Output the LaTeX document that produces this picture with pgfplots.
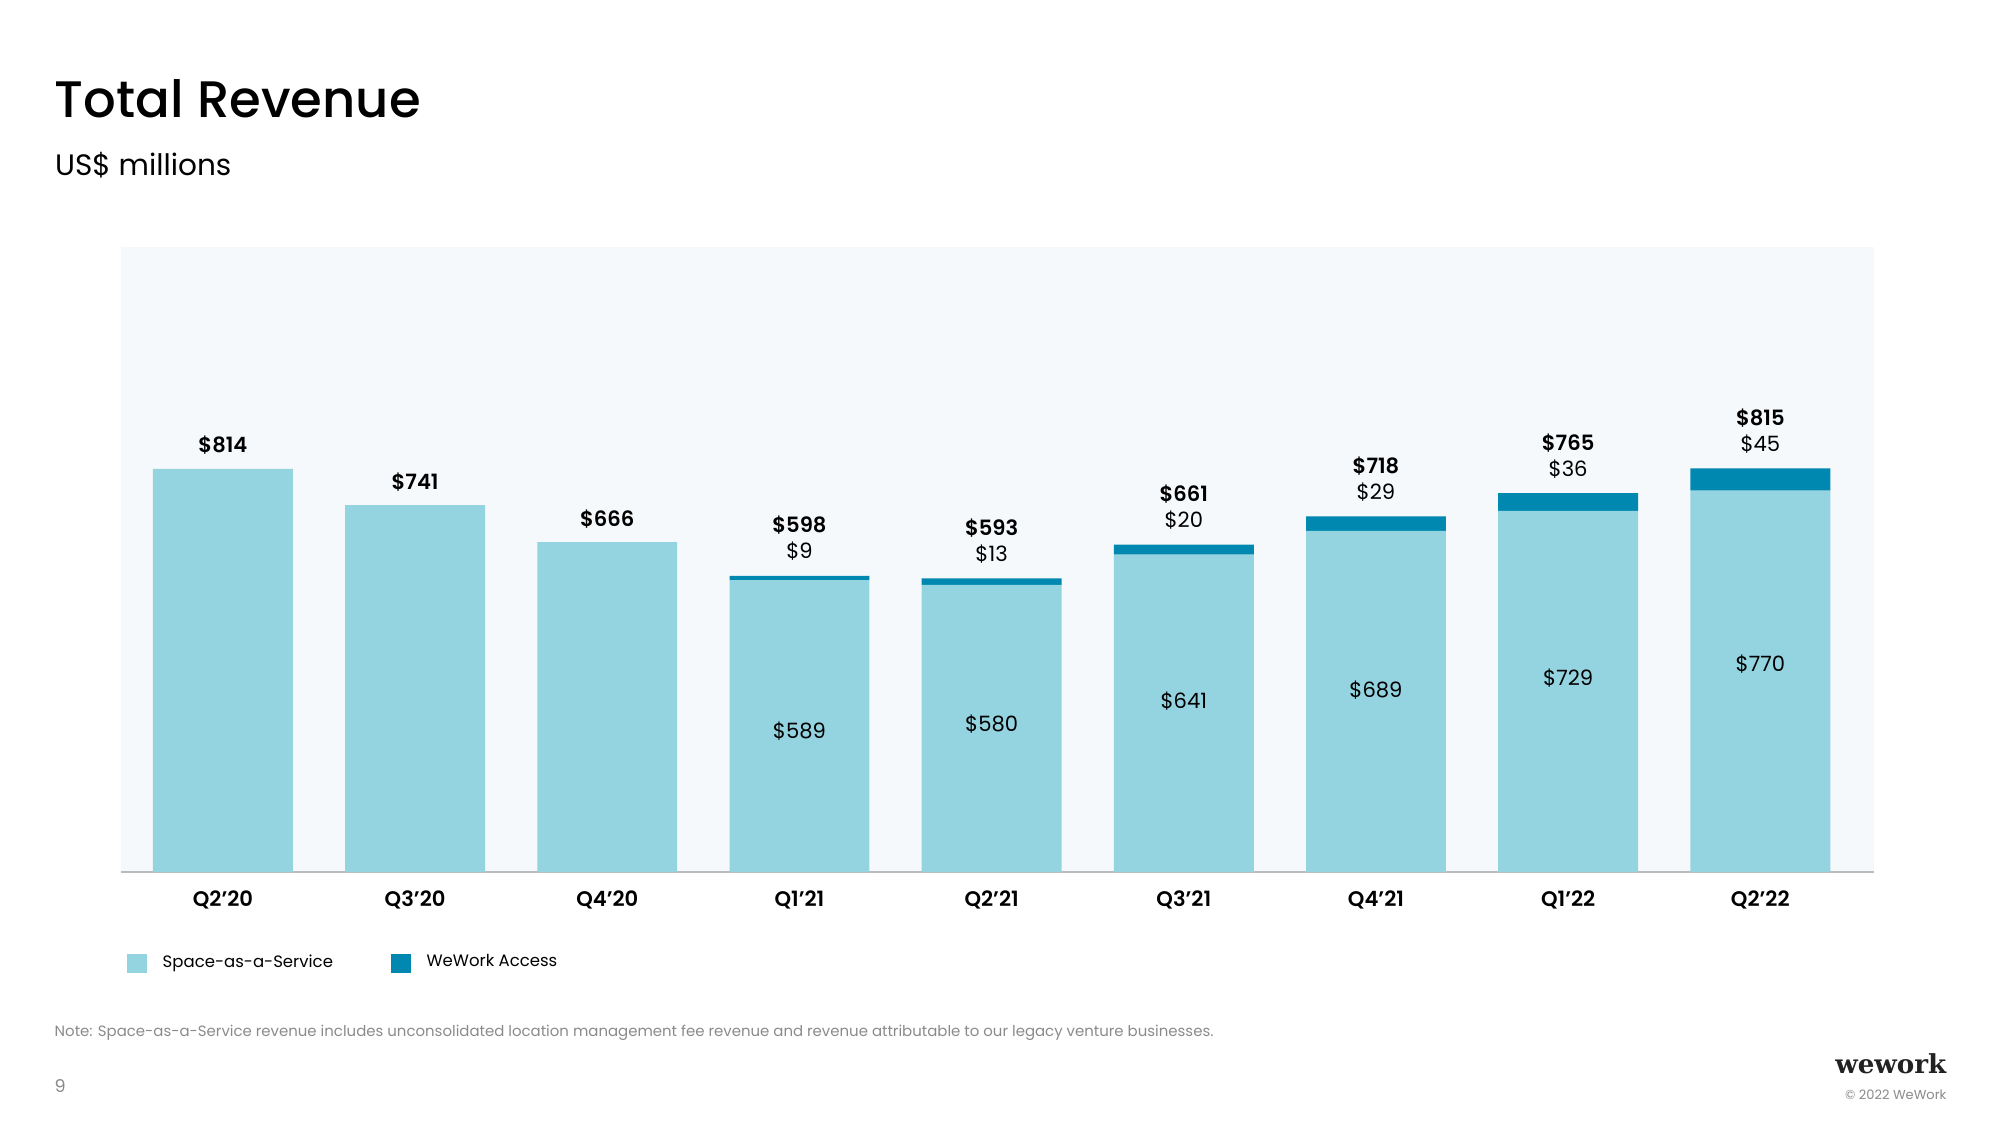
\documentclass[border=0pt]{standalone}
\usepackage{fontspec}
\setmainfont{Poppins}[BoldFont={* SemiBold}]
\newfontfamily\titlefont{Poppins}[UprightFont={* Medium}]
\usepackage{graphicx}
\usepackage{pgfplots}
\pgfplotsset{compat=1.18}
\usepackage{pgfplotstable}
\definecolor{saas}{HTML}{94D4E0}
\definecolor{access}{HTML}{0088B1}
\definecolor{bgcol}{HTML}{F6F9FC}
\definecolor{baseln}{HTML}{BBBBBB}
\definecolor{notegray}{HTML}{8A8A8A}
\definecolor{logoc}{HTML}{222222}
\newcommand{\lbl}{\fontsize{6}{7}\selectfont}
\pgfplotstableread{
x saas access total
0 814 0 814
1 741 0 741
2 666 0 666
3 589 9 598
4 580 13 593
5 641 20 661
6 689 29 718
7 729 36 765
8 770 45 815
}\revtable
\begin{document}
\begin{tikzpicture}[x=1cm,y=1cm]
\useasboundingbox (0,0) rectangle (20,11.25);
\node[anchor=base west, inner sep=0] at (0.54,10.07) {\fontsize{14.6}{16}\selectfont\titlefont Total Revenue};
\node[anchor=base west, inner sep=0] at (0.545,9.49) {\fontsize{8.4}{10}\selectfont US\$ millions};
\node[anchor=base west, inner sep=0, text=notegray] at (0.54,0.885) {\fontsize{4.25}{5.5}\selectfont Note: Space-as-a-Service revenue includes unconsolidated location management fee revenue and revenue attributable to our legacy venture businesses.};
\node[anchor=base west, inner sep=0, text=notegray] at (0.54,0.33) {\fontsize{5}{6}\selectfont 9};
\node[anchor=base east, inner sep=0, text=logoc] at (19.47,0.52) {\resizebox{1.11cm}{!}{\fontspec{DejaVu Serif}\bfseries wework}};
\node[anchor=base east, inner sep=0, text=notegray] at (19.47,0.26) {\fontsize{3.7}{4.5}\selectfont © 2022 WeWork};
\begin{axis}[
  at={(1.207cm,2.53cm)}, anchor=south west,
  width=17.53cm, height=6.25cm, scale only axis,
  xmin=-0.532, xmax=8.59, ymin=0, ymax=1262,
  ybar stacked, bar width=0.728,
  axis background/.style={fill=bgcol},
  axis y line=none,
  axis x line*=bottom,
  x axis line style={baseln, line width=0.75pt, -},
  xtick={0,...,8},
  xticklabels={Q2’20,Q3’20,Q4’20,Q1’21,Q2’21,Q3’21,Q4’21,Q1’22,Q2’22},
  xticklabel style={font=\lbl\bfseries, anchor=base, yshift=-0.345cm},
  major tick length=0pt,
  ytick=\empty,
  clip=false,
  legend style={at={(-0.0027,-0.1464)}, anchor=west, draw=none, fill=none,
    font=\fontsize{4.7}{6}\selectfont, legend columns=-1,
    /tikz/every odd column/.append style={column sep=0.09cm},
    /tikz/every even column/.append style={column sep=0.51cm}},
]
\addplot[fill=saas, draw=none, legend image code/.code={\fill[saas] (0cm,-0.0975cm) rectangle (0.195cm,0.0975cm);}] table[x=x,y=saas]{\revtable};
\addlegendentry{Space-as-a-Service}
\addplot[fill=access, draw=none, legend image code/.code={\fill[access] (0cm,-0.0975cm) rectangle (0.195cm,0.0975cm);}] table[x=x,y=access]{\revtable};
\addlegendentry{WeWork Access}
% anchor points for labels (total tops and SaaS label positions)
\coordinate (t0) at (axis cs:0,814);
\coordinate (t1) at (axis cs:1,741);
\coordinate (t2) at (axis cs:2,666);
\coordinate (t3) at (axis cs:3,598);
\coordinate (t4) at (axis cs:4,593);
\coordinate (t5) at (axis cs:5,661);
\coordinate (t6) at (axis cs:6,718);
\coordinate (t7) at (axis cs:7,765);
\coordinate (t8) at (axis cs:8,815);
\coordinate (m3) at (axis cs:3,284);
\coordinate (m4) at (axis cs:4,299);
\coordinate (m5) at (axis cs:5,345);
\coordinate (m6) at (axis cs:6,368);
\coordinate (m7) at (axis cs:7,392);
\coordinate (m8) at (axis cs:8,420);
\end{axis}
% totals above bars without access revenue
\node[anchor=base, yshift=0.16cm, font=\lbl\bfseries] at (t0) {\$814};
\node[anchor=base, yshift=0.16cm, font=\lbl\bfseries] at (t1) {\$741};
\node[anchor=base, yshift=0.16cm, font=\lbl\bfseries] at (t2) {\$666};
% totals and access labels
\node[anchor=base, yshift=0.43cm, font=\lbl\bfseries] at (t3) {\$598};
\node[anchor=base, yshift=0.17cm, font=\lbl] at (t3) {\$9};
\node[anchor=base, yshift=0.43cm, font=\lbl\bfseries] at (t4) {\$593};
\node[anchor=base, yshift=0.17cm, font=\lbl] at (t4) {\$13};
\node[anchor=base, yshift=0.43cm, font=\lbl\bfseries] at (t5) {\$661};
\node[anchor=base, yshift=0.17cm, font=\lbl] at (t5) {\$20};
\node[anchor=base, yshift=0.43cm, font=\lbl\bfseries] at (t6) {\$718};
\node[anchor=base, yshift=0.17cm, font=\lbl] at (t6) {\$29};
\node[anchor=base, yshift=0.43cm, font=\lbl\bfseries] at (t7) {\$765};
\node[anchor=base, yshift=0.17cm, font=\lbl] at (t7) {\$36};
\node[anchor=base, yshift=0.43cm, font=\lbl\bfseries] at (t8) {\$815};
\node[anchor=base, yshift=0.17cm, font=\lbl] at (t8) {\$45};
% space-as-a-service labels inside bars
\node[font=\lbl] at (m3) {\$589};
\node[font=\lbl] at (m4) {\$580};
\node[font=\lbl] at (m5) {\$641};
\node[font=\lbl] at (m6) {\$689};
\node[font=\lbl] at (m7) {\$729};
\node[font=\lbl] at (m8) {\$770};
\end{tikzpicture}
\end{document}
